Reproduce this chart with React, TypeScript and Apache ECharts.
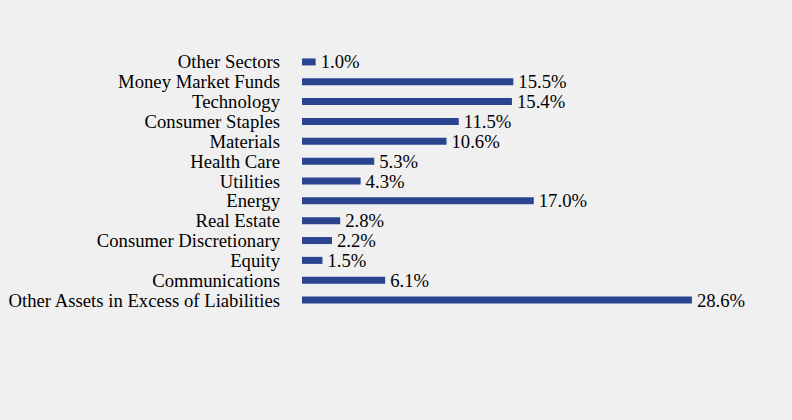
import React, { useEffect, useRef } from "react";
import * as echarts from "echarts";

const categories = [
  "Other Sectors",
  "Money Market Funds",
  "Technology",
  "Consumer Staples",
  "Materials",
  "Health Care",
  "Utilities",
  "Energy",
  "Real Estate",
  "Consumer Discretionary",
  "Equity",
  "Communications",
  "Other Assets in Excess of Liabilities",
];
const values = [1.0, 15.5, 15.4, 11.5, 10.6, 5.3, 4.3, 17.0, 2.8, 2.2, 1.5, 6.1, 28.6];

export default function App() {
  const ref = useRef<HTMLDivElement>(null);
  useEffect(() => {
    const chart = echarts.init(ref.current!, null, { renderer: "svg" });
    chart.setOption({
      animation: false,
      backgroundColor: "#f0f0f0",
      grid: { left: 302, top: 52, width: 409, height: 258, containLabel: false },
      xAxis: {
        type: "value",
        min: 0,
        max: 30,
        show: false,
      },
      yAxis: {
        type: "category",
        data: categories,
        inverse: true,
        axisLine: { show: false },
        axisTick: { show: false },
        splitLine: { show: false },
        axisLabel: {
          interval: 0,
          fontFamily: "Liberation Serif",
          fontSize: 18.7,
          color: "#000",
          margin: 22,
        },
      },
      series: [
        {
          type: "bar",
          data: values,
          barWidth: 7,
          itemStyle: { color: "#2a4490" },
          label: {
            show: true,
            position: "right",
            distance: 5,
            fontFamily: "Liberation Serif",
            fontSize: 18.7,
            color: "#000",
            formatter: (p: any) => p.value.toFixed(1) + "%",
          },
        },
      ],
    });
    return () => chart.dispose();
  }, []);
  return (
    <div
      ref={ref}
      style={{ position: "fixed", left: 0, top: 0, width: 792, height: 420 }}
    />
  );
}
